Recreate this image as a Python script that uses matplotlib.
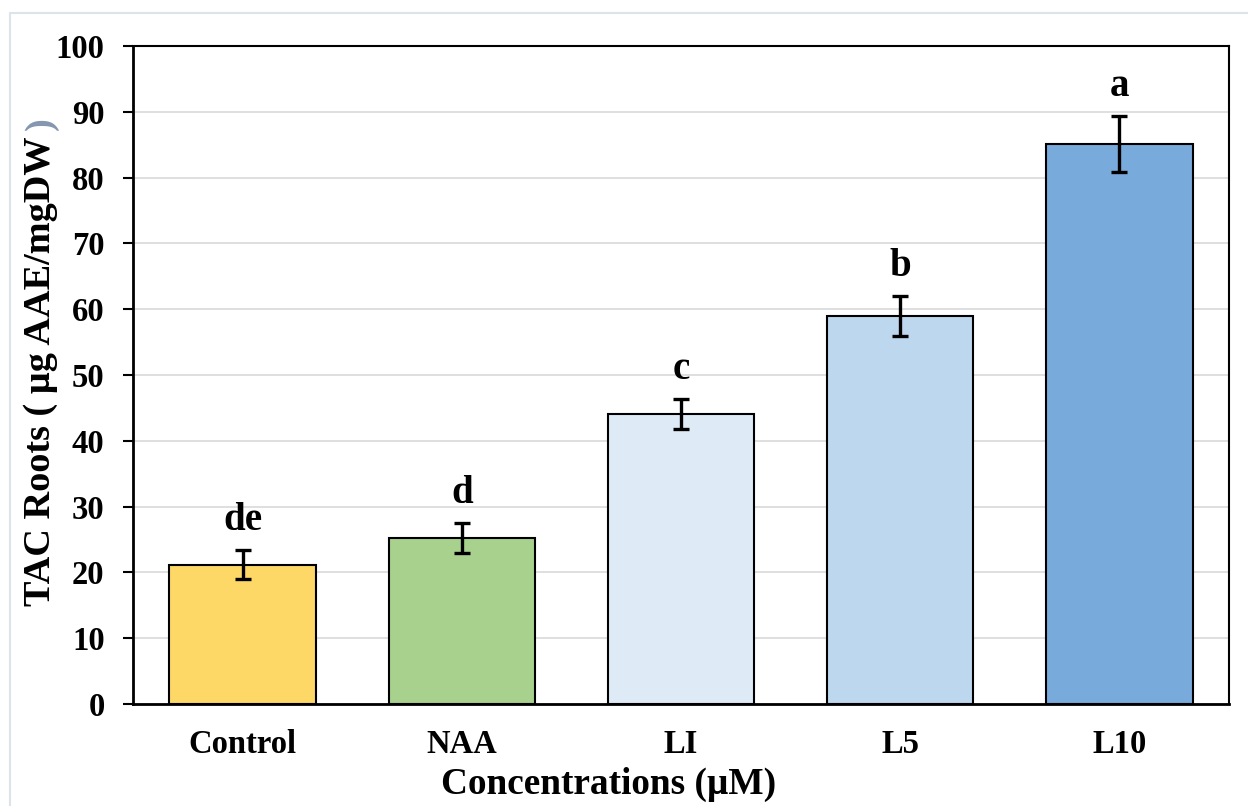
import matplotlib
matplotlib.use("Agg")
import matplotlib.pyplot as plt
from matplotlib.lines import Line2D

categories = ["Control", "NAA", "LI", "L5", "L10"]
values = [21.2, 25.2, 44.1, 59.0, 85.1]
errors = [2.2, 2.3, 2.3, 3.0, 4.2]
letters = ["de", "d", "c", "b", "a"]
colors = ["#FDD866", "#A9D18E", "#DEEBF7", "#BDD7EE", "#78AADB"]
yticks = [0, 10, 20, 30, 40, 50, 60, 70, 80, 90, 100]

plt.rcParams['font.family'] = ['Liberation Serif', 'DejaVu Serif']
plt.rcParams['font.weight'] = 'bold'

fig = plt.figure(figsize=(12.48, 8.06), dpi=100)
fig.add_artist(Line2D([10/1248, 10/1248, 1.0], [0.0, 1 - 13/806, 1 - 13/806],
                      transform=fig.transFigure, color="#dde3ea", linewidth=1.5))
ax = fig.add_axes([133/1248, 102/806, 1096/1248, 658/806])

x = list(range(len(categories)))
ax.bar(x, values, width=0.667, color=colors, edgecolor="black", linewidth=1.5, zorder=3)
ax.errorbar(x, values, yerr=errors, fmt="none", ecolor="black", elinewidth=2.4,
            capsize=6, capthick=2.4, zorder=4)
for xi, v, e, t in zip(x, values, errors, letters):
    ax.annotate(t, (xi, v + e), xytext=(0, 8), textcoords="offset points",
                ha="center", va="bottom", fontsize=28, fontweight="bold")

ax.set_xlim(-0.5, 4.5)
ax.set_ylim(0, 100)
ax.set_yticks(yticks)
ax.set_xticks(x)
ax.set_xticklabels(categories)
ax.tick_params(axis="x", length=0, pad=18, labelsize=23.5)
ax.tick_params(axis="y", length=7.5, width=1.5, direction="out", labelsize=23.5, pad=13)
for lab in ax.get_xticklabels() + ax.get_yticklabels():
    lab.set_fontweight("bold")
ax.grid(axis="y", color="#d9d9d9", linewidth=1.2, zorder=0)
ax.set_axisbelow(True)
for s in ax.spines.values():
    s.set_color("black")
    s.set_linewidth(1.5)
ax.spines["left"].set_linewidth(2)
ax.spines["bottom"].set_linewidth(2)

ax.set_xlabel("Concentrations (µM)", fontsize=26.8, fontweight="bold")
ax.xaxis.set_label_coords(0.434, -0.095)
ylab = ax.set_ylabel("TAC Roots ( µg AAE/mgDW ", fontsize=27.5, fontweight="bold")
ax.yaxis.set_label_coords(-0.068, 0.512)

fig.canvas.draw()
bb = ylab.get_window_extent()
fig.text(bb.x1, bb.y1 - 2, ")", rotation=90, fontsize=27.5, fontweight="bold",
         color="#8497B0", ha="right", va="bottom", transform=None)

fig.savefig("out.png", dpi=100)
